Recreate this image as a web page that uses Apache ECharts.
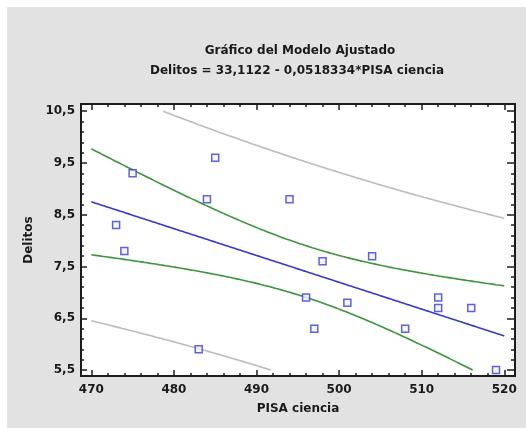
<!DOCTYPE html>
<html>
<head>
<meta charset="utf-8">
<script src="https://cdn.jsdelivr.net/npm/echarts@6/dist/echarts.min.js"></script>
<style>
  html, body { margin: 0; padding: 0; background: #ffffff; }
  #chart { width: 526px; height: 428px; }
</style>
</head>
<body>
<div id="chart"></div>
<script>
// Observed data: PISA science score vs. crime rate
const pisaCiencia = [473, 474, 475, 484, 485, 494, 483, 496, 497, 498, 501, 504, 508, 512, 512, 516, 519];
const delitos     = [8.3, 7.8, 9.3, 8.8, 9.6, 8.8, 5.9, 6.9, 6.3, 7.6, 6.8, 7.7, 6.3, 6.9, 6.7, 6.7, 5.5];

// Fitted model coefficients
const intercept = 33.1122;
const slope = -0.0518334;
const tCrit = 2.131; // Student t, 0.975 quantile, 15 d.f.

// Axis tick labels
const xTickLabels = [470, 480, 490, 500, 510, 520];
const yTickLabels = [5.5, 6.5, 7.5, 8.5, 9.5, 10.5];

const X_LO = 470, X_HI = 520, Y_LO = 5.5, Y_HI = 10.5;
const X_MIN = 468.75, X_MAX = 521.3, Y_MIN = 5.385, Y_MAX = 10.64;

// Regression statistics for the confidence / prediction limits
const n = pisaCiencia.length;
const xbar = pisaCiencia.reduce((a, b) => a + b, 0) / n;
const sxx = pisaCiencia.reduce((a, x) => a + (x - xbar) * (x - xbar), 0);
const sse = pisaCiencia.reduce((a, x, i) => {
  const r = delitos[i] - (intercept + slope * x);
  return a + r * r;
}, 0);
const sRes = Math.sqrt(sse / (n - 2));

const fit = x => intercept + slope * x;
const limit = (extra, sign) => x =>
  fit(x) + sign * tCrit * sRes * Math.sqrt(extra + 1 / n + (x - xbar) * (x - xbar) / sxx);

// Sample a curve across the x range, trimmed to the y range
function clipCurve(f) {
  const out = [];
  let prev = null;
  const steps = 200;
  for (let i = 0; i <= steps; i++) {
    const x = X_LO + (X_HI - X_LO) * i / steps;
    const y = f(x);
    const inside = y >= Y_LO && y <= Y_HI;
    if (prev) {
      const pin = prev[1] >= Y_LO && prev[1] <= Y_HI;
      if (pin !== inside) {
        const ref = inside ? prev[1] : y;
        const edge = ref > Y_HI ? Y_HI : Y_LO;
        const t = (edge - prev[1]) / (y - prev[1]);
        out.push([prev[0] + t * (x - prev[0]), edge]);
        if (!inside) out.push([x, null]);
      }
    }
    if (inside) out.push([x, y]);
    prev = [x, y];
  }
  return out;
}

const xMinorTicks = [];
for (let v = X_LO; v <= X_HI + 1e-9; v += 2) xMinorTicks.push(+v.toFixed(2));
const yMinorTicks = [];
for (let v = Y_LO; v <= Y_HI + 1e-9; v += 0.2) yMinorTicks.push(+v.toFixed(2));

const FONT = '"DejaVu Sans", "Liberation Sans", sans-serif';
const frame = { show: true, onZero: false, lineStyle: { color: '#1c1c1c', width: 2 } };
const noLine = { show: false };

function xAxisDef(position, ticks, len, withLabels, line) {
  return {
    type: 'value', position, min: X_MIN, max: X_MAX,
    axisLine: line ? frame : noLine,
    axisTick: { show: true, inside: true, length: len, customValues: ticks,
                lineStyle: { color: '#1c1c1c', width: 1.5 } },
    axisLabel: withLabels ? {
      show: true, customValues: xTickLabels, margin: 8,
      color: '#1a1a1a', fontFamily: FONT, fontWeight: 'bold', fontSize: 12
    } : { show: false },
    splitLine: { show: false },
    name: withLabels ? 'PISA ciencia' : '',
    nameLocation: 'middle', nameGap: 27,
    nameTextStyle: { color: '#1a1a1a', fontFamily: FONT, fontWeight: 'bold', fontSize: 12 }
  };
}

function yAxisDef(position, ticks, len, withLabels, line) {
  return {
    type: 'value', position, min: Y_MIN, max: Y_MAX,
    axisLine: line ? frame : noLine,
    axisTick: { show: true, inside: true, length: len, customValues: ticks,
                lineStyle: { color: '#1c1c1c', width: 1.5 } },
    axisLabel: withLabels ? {
      show: true, customValues: yTickLabels, margin: 6,
      color: '#1a1a1a', fontFamily: FONT, fontWeight: 'bold', fontSize: 12,
      formatter: v => v.toFixed(1).replace('.', ',')
    } : { show: false },
    splitLine: { show: false },
    name: withLabels ? 'Delitos' : '',
    nameLocation: 'middle', nameGap: 44, nameRotate: 90,
    nameTextStyle: { color: '#1a1a1a', fontFamily: FONT, fontWeight: 'bold', fontSize: 12 }
  };
}

function lineSeries(data, color) {
  return {
    type: 'line', data, showSymbol: false, smooth: false, connectNulls: false,
    xAxisIndex: 0, yAxisIndex: 0, silent: true,
    lineStyle: { color, width: 1.6 }, z: 3
  };
}

const chart = echarts.init(document.getElementById('chart'), null, { renderer: 'canvas' });
chart.setOption({
  backgroundColor: '#ffffff',
  animation: false,
  graphic: [
    { type: 'rect', shape: { x: 7, y: 7, width: 519, height: 421 },
      style: { fill: '#e2e2e2' }, z: -10 },
    { type: 'text', x: 300, y: 51,
      style: { text: 'Gráfico del Modelo Ajustado', fill: '#1a1a1a', font: 'bold 12px ' + FONT,
               textAlign: 'center', textVerticalAlign: 'middle' } },
    { type: 'text', x: 297, y: 71,
      style: { text: 'Delitos = 33,1122 - 0,0518334*PISA ciencia', fill: '#1a1a1a', font: 'bold 12px ' + FONT,
               textAlign: 'center', textVerticalAlign: 'middle' } }
  ],
  grid: {
    left: 81, top: 104, right: 11, bottom: 52,
    show: true, backgroundColor: '#ffffff', borderWidth: 0
  },
  xAxis: [
    xAxisDef('bottom', xTickLabels, 6, true, true),
    xAxisDef('bottom', xMinorTicks, 3, false, false),
    xAxisDef('top', xTickLabels, 6, false, true),
    xAxisDef('top', xMinorTicks, 3, false, false)
  ],
  yAxis: [
    yAxisDef('left', yTickLabels, 6, true, true),
    yAxisDef('left', yMinorTicks, 3, false, false),
    yAxisDef('right', yTickLabels, 8, false, true),
    yAxisDef('right', yMinorTicks, 4, false, false)
  ],
  series: [
    lineSeries(clipCurve(limit(1, 1)), '#bcbcbc'),
    lineSeries(clipCurve(limit(1, -1)), '#bcbcbc'),
    lineSeries(clipCurve(limit(0, 1)), '#3a963a'),
    lineSeries(clipCurve(limit(0, -1)), '#3a963a'),
    lineSeries(clipCurve(fit), '#3838cc'),
    {
      type: 'scatter', xAxisIndex: 0, yAxisIndex: 0, z: 5,
      data: pisaCiencia.map((x, i) => [x, delitos[i]]),
      symbol: 'rect', symbolSize: 7,
      itemStyle: { color: '#f4f4ff', borderColor: '#3a3ad8', borderWidth: 1.5 }
    }
  ]
});
</script>
</body>
</html>
